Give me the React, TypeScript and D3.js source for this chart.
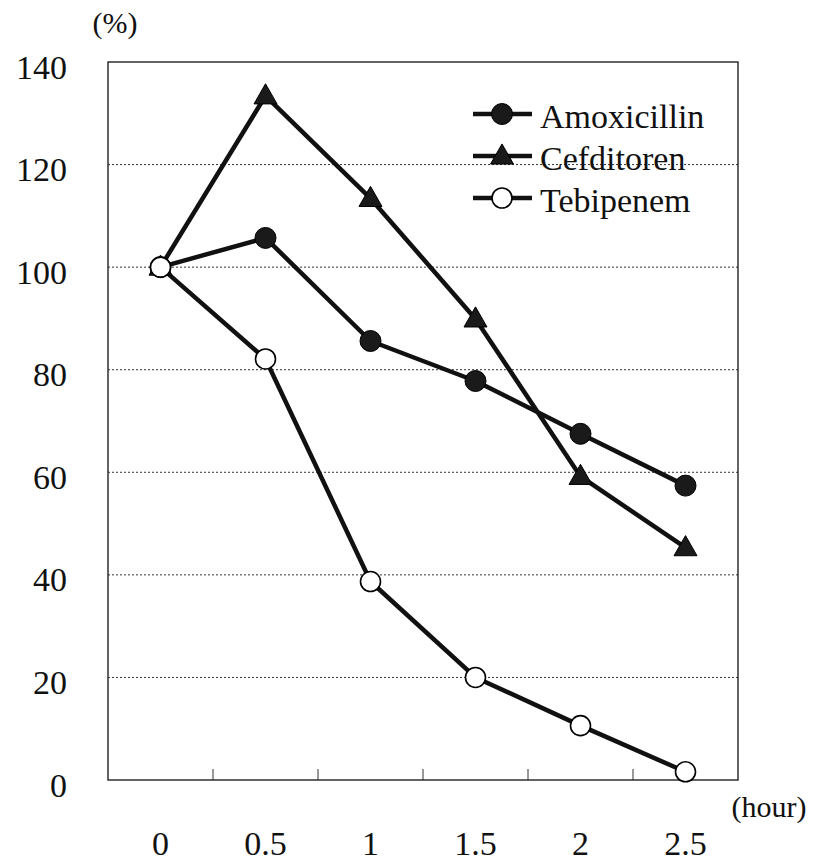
import React from 'react'
import * as d3 from 'd3'

const hours = ['0', '0.5', '1', '1.5', '2', '2.5']
const amoxicillin = [100, 105.7, 85.6, 77.8, 67.5, 57.4]
const cefditoren = [100, 133.4, 113.4, 89.9, 59.2, 45.3]
const tebipenem = [100, 82.1, 38.7, 20.0, 10.6, 1.6]
const yTicks = [0, 20, 40, 60, 80, 100, 120, 140]
const seriesNames = ['Amoxicillin', 'Cefditoren', 'Tebipenem']

const W = 815
const H = 862
const margin = { top: 62, right: 77, bottom: 82, left: 108 }
const FONT = '"Liberation Serif", "Times New Roman", serif'

function Marker({ kind, x, y }: { kind: string; x: number; y: number }) {
  if (kind === 'Amoxicillin') {
    return <circle cx={x} cy={y} r={10.5} fill="#1a1a1a" stroke="#000" strokeWidth={1} />
  }
  if (kind === 'Cefditoren') {
    const s = 11.5
    const path = `M${x},${y - s * 1.05} L${x + s},${y + s * 0.7} L${x - s},${y + s * 0.7} Z`
    return <path d={path} fill="#1a1a1a" stroke="#000" strokeWidth={1} />
  }
  return <circle cx={x} cy={y} r={10} fill="#fff" stroke="#000" strokeWidth={1.6} />
}

export default function App() {
  const innerW = W - margin.left - margin.right
  const innerH = H - margin.top - margin.bottom

  const x = d3.scaleBand().domain(hours).range([margin.left, margin.left + innerW]).padding(0)
  const y = d3.scaleLinear().domain([0, 140]).range([margin.top + innerH, margin.top])
  const cx = (h: string) => (x(h) || 0) + x.bandwidth() / 2

  const line = d3.line<[string, number]>().x(d => cx(d[0])).y(d => y(d[1]))
  const allSeries: Array<[string, number[]]> = [
    ['Amoxicillin', amoxicillin],
    ['Cefditoren', cefditoren],
    ['Tebipenem', tebipenem]
  ]

  const bottom = margin.top + innerH
  const right = margin.left + innerW

  return (
    <svg width={W} height={H} style={{ position: 'absolute', left: 0, top: 0, background: '#fff' }}>
      {/* grid */}
      {yTicks.filter(t => t > 0 && t < 140).map(t => (
        <line key={t} x1={margin.left} x2={right} y1={y(t)} y2={y(t)}
          stroke="#333" strokeWidth={1} strokeDasharray="2,2" />
      ))}
      {/* frame */}
      <rect x={margin.left} y={margin.top} width={innerW} height={innerH} fill="none" stroke="#222" strokeWidth={1.4} />
      {/* x ticks at band boundaries */}
      {hours.slice(1).map(h => (
        <line key={h} x1={x(h)} x2={x(h)} y1={bottom} y2={bottom - 11} stroke="#333" strokeWidth={1} />
      ))}
      {/* y labels */}
      {yTicks.map(t => (
        <text key={t} x={67} y={y(t) + 5} textAnchor="end" dominantBaseline="central"
          fontFamily={FONT} fontSize={34} fill="#111">{t}</text>
      ))}
      {/* x labels */}
      {hours.map(h => (
        <text key={h} x={cx(h)} y={843} textAnchor="middle" dominantBaseline="central"
          fontFamily={FONT} fontSize={34} fill="#111">{h}</text>
      ))}
      <text x={115} y={22} textAnchor="middle" dominantBaseline="central" fontFamily={FONT} fontSize={30} fill="#111">(%)</text>
      <text x={769} y={806} textAnchor="middle" dominantBaseline="central" fontFamily={FONT} fontSize={30} fill="#111">(hour)</text>

      {/* lines */}
      {allSeries.map(([name, vals]) => (
        <path key={name} d={line(hours.map((h, i) => [h, vals[i]] as [string, number])) || ''}
          fill="none" stroke="#111" strokeWidth={4.5} strokeLinejoin="round" />
      ))}
      {/* markers, drawn so the tebipenem start sits on top */}
      {allSeries.map(([name, vals]) => (
        <g key={name}>
          {hours.map((h, i) => <Marker key={h} kind={name} x={cx(h)} y={y(vals[i])} />)}
        </g>
      ))}

      {/* legend */}
      {seriesNames.map((name, i) => {
        const ly = 114 + i * 42
        return (
          <g key={name}>
            <line x1={473} x2={532} y1={ly} y2={ly} stroke="#111" strokeWidth={4.5} />
            <Marker kind={name} x={502} y={ly} />
            <text x={540} y={ly + 2} dominantBaseline="central" fontFamily={FONT} fontSize={34} fill="#111">{name}</text>
          </g>
        )
      })}
    </svg>
  )
}
